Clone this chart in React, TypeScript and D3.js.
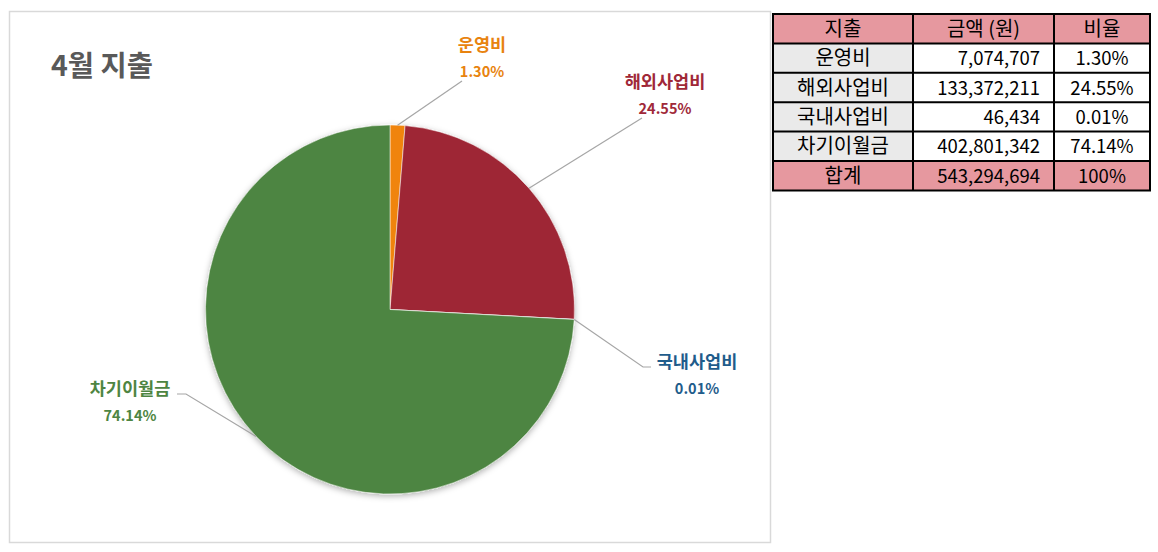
import React from "react";
import * as d3 from "d3";

const categories = ["운영비", "해외사업비", "국내사업비", "차기이월금"];
const amounts = [7074707, 133372211, 46434, 402801342];
const percents = ["1.30%", "24.55%", "0.01%", "74.14%"];
const totalLabel = "합계";
const totalAmount = "543,294,694";
const totalPercent = "100%";
const tableHeaders = ["지출", "금액 (원)", "비율"];
const title = "4월 지출";

const sliceColors = ["#F0840F", "#9E2836", "#2F5F8F", "#4E8542"];
const labelColors = ["#E8830F", "#A02838", "#1F5C8B", "#4E8542"];

// label layout: [name center x, name y, leader end points]
const labelLayout = [
  { x: 482, y: 51, pts: [[462, 81]] },
  { x: 665, y: 88, pts: [[642, 118]] },
  { x: 697, y: 368, pts: [[643, 367], [651, 367]] },
  { x: 130, y: 395, pts: [[186, 394], [177, 394]] },
];

const FONT = "'Noto Sans CJK KR', 'Noto Sans', sans-serif";

export default function App() {
  const cx = 390;
  const cy = 309.5;
  const r = 184.5;
  const pie = d3.pie<number>().sort(null).value((d) => d);
  const arcs = pie(amounts);
  const arc = d3.arc<d3.PieArcDatum<number>>().innerRadius(0).outerRadius(r);
  const fmt = d3.format(",");

  // table layout
  const tx0 = 773, tx1 = 913, tx2 = 1054, tx3 = 1150;
  const ty0 = 14;
  const rowH = 29.4;
  const rows = categories.length + 2;
  const yAt = (i: number) => ty0 + i * rowH;
  const ko = 20;
  const num = 18.5;
  const base = (i: number) => yAt(i) + rowH / 2 + 7;

  return (
    <svg
      width={1158}
      height={552}
      style={{ position: "absolute", left: 0, top: 0, background: "#fff" }}
      fontFamily={FONT}
    >
      <defs>
        <filter id="sh" x="-20%" y="-20%" width="140%" height="140%">
          <feDropShadow dx="0" dy="2" stdDeviation="3" floodColor="#000" floodOpacity="0.3" />
        </filter>
      </defs>
      <rect x={9.5} y={11.5} width={761} height={531} fill="#fff" stroke="#D9D9D9" strokeWidth={1.5} />
      <text x={51} y={76} fontSize={28.5} fontWeight={700} fill="#595959">
        {title}
      </text>
      <g transform={`translate(${cx},${cy})`} filter="url(#sh)">
        {arcs.map((a, i) => (
          <path key={i} d={arc(a) || ""} fill={sliceColors[i]} stroke="#fff" strokeWidth={0.5} />
        ))}
      </g>
      {arcs.map((a, i) => {
        const mid = (a.startAngle + a.endAngle) / 2;
        const sx = cx + r * Math.sin(mid);
        const sy = cy - r * Math.cos(mid);
        const L = labelLayout[i];
        const pts = [[sx, sy], ...L.pts];
        return (
          <g key={i}>
            <polyline
              points={pts.map((p) => p.join(",")).join(" ")}
              fill="none"
              stroke="#A6A6A6"
              strokeWidth={1.2}
            />
            <text x={L.x} y={L.y} textAnchor="middle" fontSize={17.5} fontWeight={600} fill={labelColors[i]}>
              {categories[i]}
            </text>
            <text x={L.x} y={L.y + 26} textAnchor="middle" fontSize={14.5} fontWeight={700} fill={labelColors[i]}>
              {percents[i]}
            </text>
          </g>
        );
      })}

      {/* table */}
      <g fill="#000">
        <rect x={tx0} y={yAt(0)} width={tx3 - tx0} height={rowH} fill="#E6989F" />
        <rect x={tx0} y={yAt(rows - 1)} width={tx3 - tx0} height={rowH} fill="#E6989F" />
        <rect x={tx0} y={yAt(1)} width={tx1 - tx0} height={rowH * categories.length} fill="#EAEAEA" />
        {tableHeaders.map((h, j) => {
          const xs = [(tx0 + tx1) / 2, (tx1 + tx2) / 2, (tx2 + tx3) / 2];
          return (
            <text key={j} x={xs[j]} y={base(0)} textAnchor="middle" fontSize={ko}>
              {h}
            </text>
          );
        })}
        {categories.map((c, i) => (
          <g key={i}>
            <text x={(tx0 + tx1) / 2} y={base(i + 1)} textAnchor="middle" fontSize={ko}>
              {c}
            </text>
            <text x={tx2 - 14} y={base(i + 1)} textAnchor="end" fontSize={num}>
              {fmt(amounts[i])}
            </text>
            <text x={(tx2 + tx3) / 2} y={base(i + 1)} textAnchor="middle" fontSize={num}>
              {percents[i]}
            </text>
          </g>
        ))}
        <text x={(tx0 + tx1) / 2} y={base(rows - 1)} textAnchor="middle" fontSize={ko}>
          {totalLabel}
        </text>
        <text x={tx2 - 14} y={base(rows - 1)} textAnchor="end" fontSize={num}>
          {totalAmount}
        </text>
        <text x={(tx2 + tx3) / 2} y={base(rows - 1)} textAnchor="middle" fontSize={num}>
          {totalPercent}
        </text>
        {d3.range(rows + 1).map((i) => (
          <line key={"h" + i} x1={tx0 - 1} x2={tx3 + 1} y1={yAt(i)} y2={yAt(i)} stroke="#000" strokeWidth={2} />
        ))}
        {[tx0, tx1, tx2, tx3].map((x, i) => (
          <line key={"v" + i} x1={x} x2={x} y1={yAt(0)} y2={yAt(rows)} stroke="#000" strokeWidth={2} />
        ))}
      </g>
    </svg>
  );
}
